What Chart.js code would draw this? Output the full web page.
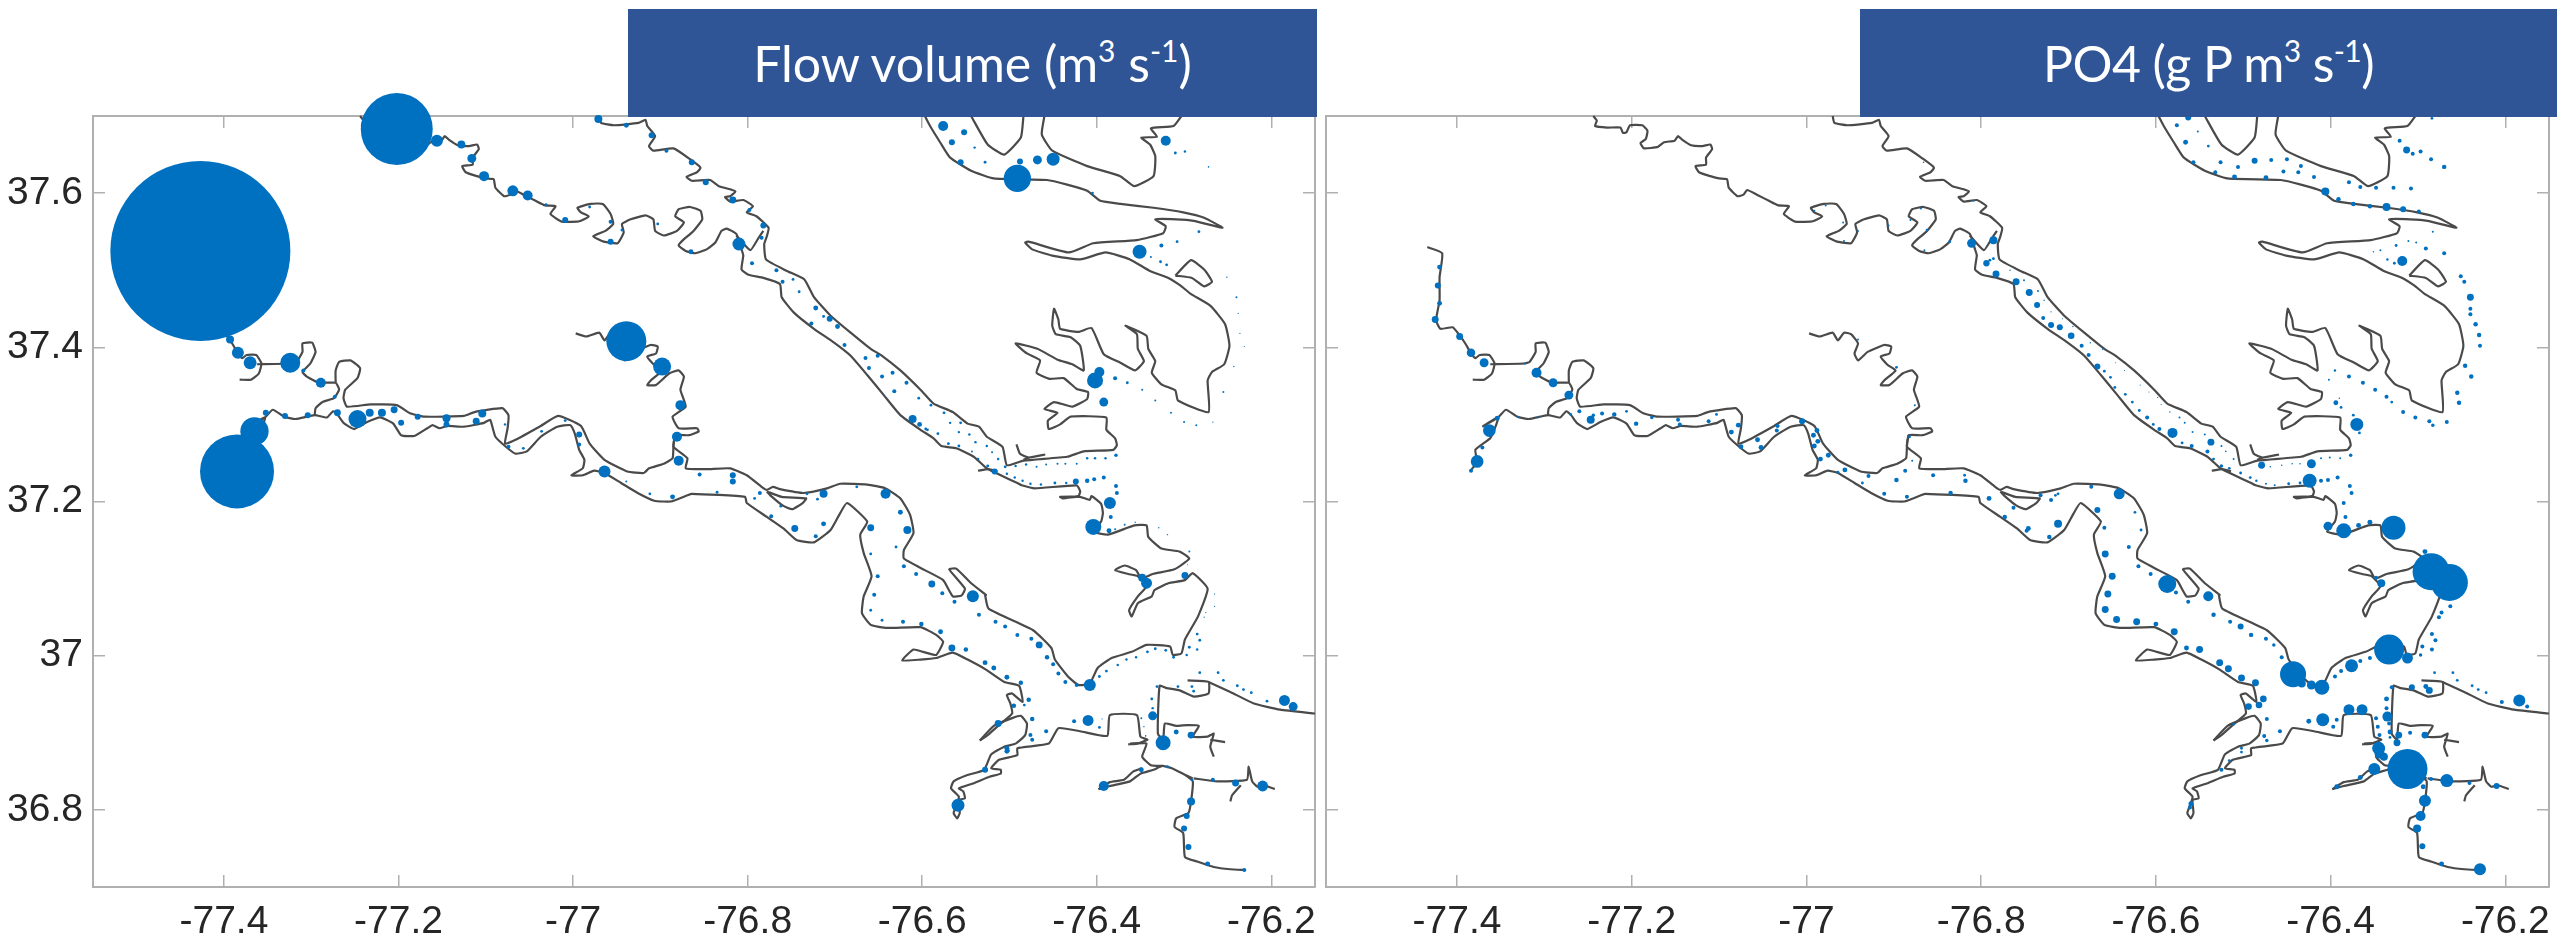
<!DOCTYPE html>
<html>
<head>
<meta charset="utf-8">
<title>Flow volume and PO4</title>
<script src="https://cdn.jsdelivr.net/npm/chart.js@4/dist/chart.umd.min.js"></script>
<style>
    html, body { margin: 0; padding: 0; background: #fff; }
    body { position: relative; width: 2557px; height: 937px; overflow: hidden; }
    canvas { position: absolute; top: 0; }
    #flowChart { left: 0; }
    #po4Chart { left: 1320px; }
    .bar {
        position: absolute; top: 9px; height: 108px; background: #2f5597; color: #fff;
        font: 50px Lato, sans-serif; line-height: 108px; text-align: center; white-space: nowrap;
    }
    .bar sup { font-size: 30px; line-height: 0; vertical-align: 20px; }
    #flowBar { left: 628px; width: 689px; }
    #po4Bar { left: 1860px; width: 697px; letter-spacing: -0.6px; }
</style>
</head>
<body>
<canvas id="flowChart" width="1320" height="937"></canvas>
<canvas id="po4Chart" width="1237" height="937"></canvas>
<div class="bar" id="flowBar">Flow volume (m<sup>3</sup> s<sup>-1</sup>)</div>
<div class="bar" id="po4Bar">PO4 (g P m<sup>3</sup> s<sup>-1</sup>)</div>
<script>
/************************ AXES */
const xTickValues = [-77.4, -77.2, -77, -76.8, -76.6, -76.4, -76.2];
const yTickValues = [36.8, 37, 37.2, 37.4, 37.6];
const xLimits = [-77.55, -76.15];
const yLimits = [36.7, 37.7];

/************************ SHORELINE, [lon, lat] */
const coastPamunkey = [[-77.244,37.700],[-77.240,37.694],[-77.242,37.687],[-77.228,37.685],[-77.213,37.685],[-77.210,37.678],[-77.206,37.679],[-77.202,37.688],[-77.188,37.688],[-77.182,37.681],[-77.184,37.670],[-77.190,37.665],[-77.186,37.658],[-77.170,37.660],[-77.163,37.666],[-77.151,37.668],[-77.147,37.674],[-77.142,37.669],[-77.132,37.662],[-77.119,37.661],[-77.110,37.663],[-77.108,37.657],[-77.115,37.646],[-77.115,37.637],[-77.127,37.635],[-77.123,37.627],[-77.110,37.622],[-77.100,37.619],[-77.091,37.618],[-77.089,37.607],[-77.079,37.596],[-77.072,37.598],[-77.068,37.604],[-77.055,37.597],[-77.043,37.590],[-77.032,37.584],[-77.020,37.583],[-77.026,37.573],[-77.013,37.563],[-76.995,37.563],[-76.991,37.564],[-76.982,37.570],[-76.991,37.575],[-76.995,37.581],[-76.980,37.586],[-76.966,37.586],[-76.957,37.573],[-76.954,37.560],[-76.963,37.551],[-76.977,37.544],[-76.965,37.537],[-76.949,37.535],[-76.942,37.549],[-76.944,37.560],[-76.934,37.566],[-76.917,37.571],[-76.908,37.566],[-76.906,37.551],[-76.896,37.545],[-76.881,37.551],[-76.873,37.562],[-76.883,37.570],[-76.879,37.579],[-76.866,37.582],[-76.854,37.577],[-76.852,37.566],[-76.862,37.551],[-76.875,37.538],[-76.879,37.532],[-76.871,37.525],[-76.860,37.522],[-76.847,37.527],[-76.837,37.536],[-76.830,37.551],[-76.824,37.554],[-76.813,37.547],[-76.807,37.527],[-76.805,37.519],[-76.807,37.501],[-76.799,37.494],[-76.782,37.490],[-76.763,37.482],[-76.761,37.465],[-76.747,37.445],[-76.724,37.424],[-76.701,37.406],[-76.682,37.389],[-76.663,37.364],[-76.644,37.338],[-76.625,37.312],[-76.602,37.293],[-76.587,37.282],[-76.578,37.272],[-76.561,37.269],[-76.541,37.258],[-76.526,37.243],[-76.510,37.234],[-76.491,37.224],[-76.486,37.221],[-76.471,37.217],[-76.423,37.221],[-76.419,37.213],[-76.421,37.207],[-76.439,37.204],[-76.442,37.206],[-76.419,37.206],[-76.408,37.202],[-76.406,37.207],[-76.395,37.197],[-76.393,37.185],[-76.395,37.174],[-76.404,37.161],[-76.387,37.157],[-76.357,37.169],[-76.343,37.169],[-76.341,37.154],[-76.326,37.139],[-76.305,37.135],[-76.294,37.126],[-76.311,37.112],[-76.336,37.106],[-76.349,37.100],[-76.355,37.111],[-76.368,37.117],[-76.379,37.111],[-76.364,37.106],[-76.353,37.103],[-76.343,37.090],[-76.353,37.077],[-76.363,37.059],[-76.360,37.051],[-76.353,37.068],[-76.337,37.077],[-76.334,37.085],[-76.318,37.094],[-76.299,37.098],[-76.290,37.107],[-76.273,37.087],[-76.284,37.051],[-76.299,37.021],[-76.303,37.003],[-76.313,37.001],[-76.316,37.012],[-76.343,37.014],[-76.360,37.005],[-76.383,36.997],[-76.399,36.984],[-76.408,36.964],[-76.421,36.962],[-76.433,36.973],[-76.448,36.995],[-76.452,37.010],[-76.473,37.033],[-76.524,37.061],[-76.528,37.079]];
const coastMattaponi = [[-76.970,37.700],[-76.968,37.691],[-76.953,37.688],[-76.925,37.691],[-76.917,37.695],[-76.915,37.687],[-76.906,37.674],[-76.913,37.661],[-76.908,37.655],[-76.885,37.658],[-76.866,37.644],[-76.854,37.633],[-76.858,37.627],[-76.870,37.621],[-76.864,37.616],[-76.843,37.617],[-76.833,37.609],[-76.820,37.605],[-76.814,37.602],[-76.820,37.596],[-76.826,37.595],[-76.820,37.589],[-76.805,37.591],[-76.794,37.583],[-76.801,37.575],[-76.790,37.570],[-76.776,37.555],[-76.778,37.544],[-76.781,37.534],[-76.779,37.514],[-76.755,37.499],[-76.735,37.488],[-76.724,37.465],[-76.705,37.441],[-76.682,37.419],[-76.659,37.398],[-76.646,37.389],[-76.625,37.370],[-76.602,37.345],[-76.587,37.327],[-76.565,37.316],[-76.548,37.301],[-76.535,37.297],[-76.526,37.284],[-76.508,37.271],[-76.503,37.247],[-76.484,37.253],[-76.434,37.258],[-76.415,37.265],[-76.381,37.267],[-76.377,37.273],[-76.379,37.282],[-76.389,37.293],[-76.389,37.309],[-76.430,37.310],[-76.442,37.300],[-76.455,37.294],[-76.456,37.305],[-76.445,37.315],[-76.460,37.320],[-76.449,37.329],[-76.428,37.323],[-76.411,37.333],[-76.410,37.342],[-76.423,37.346],[-76.438,37.360],[-76.454,37.359],[-76.469,37.367],[-76.465,37.383],[-76.480,37.392],[-76.493,37.405],[-76.468,37.398],[-76.445,37.384],[-76.428,37.378],[-76.415,37.370],[-76.419,37.402],[-76.430,37.413],[-76.447,37.417],[-76.451,37.428],[-76.449,37.450],[-76.444,37.436],[-76.442,37.424],[-76.421,37.420],[-76.406,37.425],[-76.392,37.391],[-76.373,37.380],[-76.356,37.370],[-76.346,37.382],[-76.353,37.398],[-76.354,37.417],[-76.367,37.428],[-76.343,37.415],[-76.341,37.398],[-76.333,37.382],[-76.337,37.367],[-76.326,37.352],[-76.310,37.344],[-76.307,37.331],[-76.272,37.316],[-76.273,37.357],[-76.268,37.368],[-76.254,37.378],[-76.248,37.402],[-76.253,37.430],[-76.270,37.454],[-76.292,37.469],[-76.304,37.480],[-76.318,37.490],[-76.339,37.499],[-76.362,37.514],[-76.390,37.523],[-76.419,37.514],[-76.451,37.519],[-76.474,37.527],[-76.482,37.536],[-76.478,37.537],[-76.432,37.523],[-76.404,37.535],[-76.354,37.539],[-76.324,37.548],[-76.321,37.557],[-76.333,37.566],[-76.309,37.566],[-76.289,37.564],[-76.256,37.555],[-76.277,37.568],[-76.301,37.575],[-76.335,37.581],[-76.373,37.586],[-76.396,37.590],[-76.411,37.603],[-76.434,37.611],[-76.457,37.617],[-76.518,37.619],[-76.544,37.629],[-76.568,37.646],[-76.579,37.665],[-76.591,37.687],[-76.597,37.700]];
const coastMattaponiSpur = [[-76.782,37.551],[-76.788,37.541],[-76.797,37.526],[-76.813,37.545]];
const coastInletA = [[-76.544,37.700],[-76.525,37.663],[-76.506,37.650],[-76.487,37.672],[-76.484,37.700]];
const coastInletB = [[-76.460,37.700],[-76.463,37.676],[-76.451,37.655],[-76.411,37.635],[-76.373,37.622],[-76.357,37.609],[-76.335,37.622],[-76.333,37.648],[-76.339,37.663],[-76.349,37.672],[-76.331,37.673],[-76.338,37.684],[-76.312,37.687],[-76.303,37.700]];
const coastIslet = [[-76.310,37.493],[-76.292,37.513],[-76.277,37.501],[-76.268,37.485],[-76.277,37.479],[-76.291,37.490],[-76.310,37.493]];
const coastYorkBitA = [[-76.536,37.240],[-76.524,37.242],[-76.514,37.239]];
const coastYorkBitB = [[-76.492,37.274],[-76.488,37.262],[-76.478,37.257],[-76.459,37.261]];
const coastYorkBitC = [[-76.478,37.257],[-76.484,37.254]];
const coastJamesTop = [[-77.434,37.530],[-77.417,37.522],[-77.420,37.491],[-77.420,37.461],[-77.424,37.435],[-77.419,37.424],[-77.405,37.426],[-77.398,37.417],[-77.390,37.404],[-77.384,37.392],[-77.379,37.386],[-77.374,37.390],[-77.363,37.390],[-77.357,37.379],[-77.360,37.366],[-77.369,37.358],[-77.382,37.358]];
const coastJamesLoop = [[-77.362,37.378],[-77.323,37.379],[-77.317,37.381],[-77.310,37.394],[-77.310,37.405],[-77.299,37.406],[-77.295,37.394],[-77.301,37.379],[-77.310,37.368],[-77.305,37.362],[-77.291,37.354],[-77.272,37.354],[-77.268,37.345],[-77.274,37.334],[-77.287,37.329],[-77.295,37.321],[-77.296,37.312]];
const coastJamesNorth = [[-77.272,37.354],[-77.272,37.370],[-77.268,37.381],[-77.255,37.383],[-77.244,37.373],[-77.247,37.360],[-77.261,37.345],[-77.263,37.334],[-77.259,37.323],[-77.232,37.326],[-77.202,37.325],[-77.186,37.314],[-77.170,37.310],[-77.125,37.311],[-77.113,37.316],[-77.081,37.321],[-77.074,37.312],[-77.075,37.295],[-77.078,37.275],[-77.066,37.280],[-77.037,37.298],[-77.017,37.311],[-76.991,37.298],[-76.981,37.275],[-76.964,37.254],[-76.938,37.239],[-76.919,37.237],[-76.913,37.243],[-76.896,37.249],[-76.886,37.256],[-76.885,37.271],[-76.883,37.286],[-76.867,37.286],[-76.856,37.291],[-76.858,37.295],[-76.879,37.295],[-76.886,37.310],[-76.871,37.323],[-76.877,37.345],[-76.873,37.362],[-76.879,37.370],[-76.890,37.366],[-76.905,37.351],[-76.915,37.351],[-76.911,37.357],[-76.898,37.370],[-76.907,37.377],[-76.915,37.388],[-76.905,37.392],[-76.903,37.401],[-76.911,37.403],[-76.930,37.394],[-76.941,37.383],[-76.945,37.392],[-76.941,37.405],[-76.949,37.417],[-76.957,37.419],[-76.964,37.409],[-76.970,37.419],[-76.985,37.414],[-76.997,37.418]];
const coastJamesEast = [[-76.883,37.286],[-76.885,37.271],[-76.869,37.256],[-76.871,37.243],[-76.847,37.242],[-76.820,37.243],[-76.801,37.234],[-76.784,37.219],[-76.778,37.215],[-76.771,37.219],[-76.763,37.216],[-76.736,37.211],[-76.709,37.217],[-76.694,37.223],[-76.663,37.222],[-76.642,37.217],[-76.625,37.204],[-76.614,37.183],[-76.610,37.159],[-76.621,37.137],[-76.621,37.126],[-76.597,37.111],[-76.576,37.098],[-76.565,37.077],[-76.555,37.078],[-76.551,37.087],[-76.569,37.112],[-76.561,37.113],[-76.544,37.094],[-76.527,37.079],[-76.528,37.079]];
const coastHogIsland = [[-76.778,37.213],[-76.761,37.206],[-76.733,37.204],[-76.737,37.198],[-76.749,37.190],[-76.760,37.195],[-76.774,37.208],[-76.778,37.213]];
const coastJamesSouth = [[-77.385,37.239],[-77.377,37.252],[-77.379,37.267],[-77.362,37.282],[-77.356,37.297],[-77.353,37.309],[-77.371,37.297],[-77.353,37.309],[-77.344,37.319],[-77.331,37.310],[-77.318,37.307],[-77.296,37.312],[-77.282,37.309],[-77.275,37.317],[-77.270,37.313],[-77.263,37.302],[-77.251,37.294],[-77.236,37.303],[-77.221,37.309],[-77.206,37.301],[-77.197,37.286],[-77.182,37.285],[-77.167,37.295],[-77.161,37.299],[-77.153,37.295],[-77.144,37.298],[-77.125,37.297],[-77.102,37.302],[-77.095,37.306],[-77.089,37.284],[-77.077,37.271],[-77.066,37.262],[-77.053,37.265],[-77.037,37.284],[-77.018,37.297],[-77.003,37.299],[-76.998,37.288],[-76.993,37.267],[-76.987,37.254],[-76.989,37.243],[-77.002,37.234],[-76.989,37.234],[-76.976,37.240],[-76.964,37.237],[-76.945,37.224],[-76.926,37.211],[-76.907,37.201],[-76.888,37.200],[-76.869,37.208],[-76.864,37.210],[-76.803,37.206],[-76.801,37.198],[-76.778,37.180],[-76.759,37.165],[-76.744,37.150],[-76.724,37.147],[-76.705,37.163],[-76.694,37.185],[-76.686,37.198],[-76.663,37.174],[-76.671,37.157],[-76.667,37.133],[-76.658,37.103],[-76.667,37.077],[-76.669,37.055],[-76.659,37.040],[-76.640,37.036],[-76.602,37.037],[-76.584,37.027],[-76.576,37.018],[-76.584,37.001],[-76.599,37.005],[-76.610,37.008],[-76.623,36.994],[-76.602,36.995],[-76.584,36.997],[-76.565,37.004],[-76.548,36.995],[-76.527,36.982],[-76.506,36.966],[-76.489,36.961],[-76.485,36.940],[-76.497,36.951],[-76.503,36.949],[-76.499,36.938],[-76.497,36.925],[-76.510,36.912],[-76.525,36.897],[-76.534,36.890]];
const coastNansemond = [[-76.534,36.890],[-76.518,36.909],[-76.497,36.919],[-76.487,36.922],[-76.480,36.912],[-76.482,36.897],[-76.493,36.886],[-76.506,36.882],[-76.521,36.872],[-76.529,36.852],[-76.549,36.845],[-76.564,36.837],[-76.567,36.828],[-76.558,36.817],[-76.564,36.796],[-76.560,36.789],[-76.557,36.796],[-76.558,36.813],[-76.551,36.815],[-76.553,36.824],[-76.558,36.828],[-76.540,36.835],[-76.523,36.843],[-76.510,36.847],[-76.510,36.852],[-76.521,36.854],[-76.512,36.865],[-76.491,36.871],[-76.491,36.880],[-76.455,36.886],[-76.444,36.906],[-76.419,36.902],[-76.388,36.896],[-76.385,36.923],[-76.354,36.923],[-76.350,36.895],[-76.342,36.891],[-76.354,36.886],[-76.364,36.885]];
const coastElizabethWestA = [[-76.398,36.827],[-76.385,36.836],[-76.369,36.839],[-76.358,36.850],[-76.348,36.854]];
const coastElizabethWestB = [[-76.398,36.827],[-76.385,36.831],[-76.362,36.837],[-76.350,36.847],[-76.335,36.852],[-76.325,36.857],[-76.314,36.854],[-76.298,36.845],[-76.290,36.841]];
const coastElizabethNorth = [[-76.362,36.886],[-76.343,36.886],[-76.348,36.869],[-76.338,36.858],[-76.325,36.857]];
const coastElizabethSouth = [[-76.298,36.845],[-76.290,36.837],[-76.292,36.811],[-76.295,36.796],[-76.309,36.789],[-76.311,36.778],[-76.301,36.770],[-76.299,36.739],[-76.285,36.733],[-76.266,36.726],[-76.247,36.723],[-76.230,36.722]];
const coastElizabethEast = [[-76.289,36.841],[-76.262,36.837],[-76.228,36.839],[-76.226,36.856],[-76.222,36.837],[-76.216,36.830],[-76.209,36.832],[-76.196,36.827]];
const coastElizabethBit = [[-76.235,36.832],[-76.245,36.819],[-76.247,36.811]];
const coastNorfolk = [[-76.296,36.968],[-76.272,36.966],[-76.272,36.951],[-76.289,36.947],[-76.305,36.955],[-76.320,36.958],[-76.328,36.961],[-76.330,36.899],[-76.324,36.891],[-76.322,36.912],[-76.309,36.909],[-76.296,36.910],[-76.283,36.909],[-76.290,36.895],[-76.273,36.895],[-76.266,36.899],[-76.270,36.882],[-76.266,36.869]];
const coastCreek = [[-76.270,36.891],[-76.253,36.888]];
const coastBeach = [[-76.272,36.966],[-76.247,36.953],[-76.220,36.938],[-76.190,36.930],[-76.150,36.925]];

const coastLines = [
    coastPamunkey, coastMattaponi, coastMattaponiSpur, coastInletA, coastInletB, coastIslet,
    coastYorkBitA, coastYorkBitB, coastYorkBitC, coastJamesTop, coastJamesLoop, coastJamesNorth,
    coastJamesEast, coastHogIsland, coastJamesSouth, coastNansemond, coastElizabethWestA,
    coastElizabethWestB, coastElizabethNorth, coastElizabethSouth, coastElizabethEast, coastElizabethBit,
    coastNorfolk, coastCreek, coastBeach
];

/************************ LOADS, [lon, lat, value] */
const flowSites = [
    [-77.427,37.525,8100],[-77.202,37.683,1296],[-76.939,37.408,400],[-77.385,37.239,1369],[-77.365,37.291,200],
    [-76.491,37.619,185],[-76.450,37.644,42],[-76.468,37.643,20],[-76.488,37.641,9],[-76.576,37.687,25],[-76.552,37.679,9],[-76.566,37.666,9],[-76.556,37.640,9],[-76.528,37.640,2],[-76.540,37.659,1.5],
    [-76.321,37.668,25],[-76.310,37.652,2],[-76.299,37.654,1.5],[-76.272,37.634,.6],[-76.351,37.524,49],[-76.326,37.532,4],[-76.308,37.537,2],[-76.327,37.511,2],[-76.320,37.507,2],[-76.338,37.517,1],[-76.283,37.550,2],[-76.405,37.600,2],
    [-76.402,37.357,64],[-76.397,37.368,25],[-76.392,37.329,20],[-76.379,37.360,4],[-76.365,37.354,2],[-76.348,37.345,1],[-76.333,37.331,1],[-76.315,37.315,1],[-76.300,37.303,1],[-76.286,37.299,1],[-76.267,37.303,.5],[-76.255,37.342,1],[-76.243,37.375,.5],[-76.231,37.401,.3],[-76.236,37.418,.3],[-76.238,37.444,.3],[-76.240,37.465,1],[-76.251,37.491,.5],
    [-77.393,37.410,16],[-77.384,37.393,36],[-77.370,37.380,42],[-77.324,37.380,100],[-77.309,37.370,4],[-77.289,37.354,25],[-77.273,37.336,4],[-77.352,37.315,9],[-77.330,37.311,9],[-77.304,37.312,9],[-77.270,37.315,12],[-77.247,37.307,81],[-77.233,37.315,16],[-77.219,37.315,16],[-77.205,37.319,12],[-77.197,37.302,9],[-77.178,37.310,9],[-77.145,37.308,16],[-77.145,37.300,9],[-77.111,37.304,12],[-77.104,37.314,16],[-77.078,37.300,1.5],[-77.074,37.271,4],[-77.057,37.269,2],[-77.036,37.291,2],[-77.009,37.305,2],[-76.993,37.287,9],[-76.993,37.274,4],[-76.964,37.239,36],[-76.881,37.284,25],[-76.877,37.325,25],[-76.879,37.253,25],[-76.898,37.375,81],
    [-77.156,37.668,36],[-77.128,37.663,16],[-77.116,37.645,20],[-77.102,37.622,25],[-77.069,37.603,30],[-77.052,37.597,25],[-77.031,37.585,2],[-77.009,37.565,9],[-76.981,37.582,2],[-76.957,37.563,4],[-76.957,37.537,9],[-76.944,37.552,2],[-76.903,37.560,2],[-76.865,37.524,6],[-76.810,37.534,42],[-76.782,37.558,9],[-76.784,37.542,4],[-76.971,37.696,16],[-76.939,37.688,6],[-76.910,37.675,9],[-76.893,37.655,4],[-76.864,37.640,9],[-76.848,37.614,9],[-76.817,37.591,12],[-76.798,37.578,4],
    [-76.795,37.509,4],[-76.767,37.500,4],[-76.748,37.488,2],[-76.760,37.485,4],[-76.741,37.472,2],[-76.722,37.451,6],[-76.706,37.437,9],[-76.727,37.431,4],[-76.697,37.427,6],[-76.713,37.440,2],[-76.689,37.403,4],[-76.665,37.386,4],[-76.651,37.389,4],[-76.661,37.373,4],[-76.646,37.362,4],[-76.634,37.367,4],[-76.618,37.354,4],[-76.632,37.343,4],[-76.611,37.307,16],[-76.604,37.334,2],[-76.590,37.325,2],[-76.575,37.315,2],[-76.594,37.293,2],[-76.556,37.302,2],
    [-76.603,37.300,6],[-76.596,37.294,2],[-76.582,37.288,2],[-76.568,37.302,1.5],[-76.558,37.290,1.5],[-76.546,37.287,1.5],[-76.570,37.275,2],[-76.558,37.272,2],[-76.539,37.277,1.5],[-76.526,37.272,1.5],[-76.543,37.265,1],[-76.520,37.264,1],[-76.536,37.255,1.5],[-76.513,37.255,1.5],[-76.525,37.246,2],[-76.517,37.239,9],[-76.505,37.245,2],[-76.493,37.246,1.5],[-76.481,37.248,1.5],[-76.469,37.245,1],[-76.458,37.248,1],[-76.445,37.249,1],[-76.436,37.249,1],[-76.423,37.249,1],[-76.411,37.256,1.5],[-76.402,37.256,1.5],[-76.390,37.256,1.5],[-76.378,37.260,3],
    [-76.503,37.236,1.5],[-76.494,37.231,1.5],[-76.485,37.227,1.5],[-76.476,37.223,1.5],[-76.464,37.222,1.5],[-76.448,37.224,2],[-76.435,37.224,1.5],[-76.424,37.226,9],[-76.411,37.227,5],[-76.403,37.229,4],[-76.392,37.231,4],[-76.378,37.220,4],[-76.377,37.211,4],[-76.385,37.198,36],[-76.384,37.180,4],[-76.404,37.167,64],[-76.386,37.162,6],[-76.379,37.164,1],[-76.368,37.170,1],[-76.356,37.173,.5],[-76.329,37.166,.5],[-76.319,37.157,.5],[-76.294,37.135,1],[-76.296,37.118,.3],
    [-76.348,37.101,16],[-76.343,37.094,30],[-76.299,37.104,12],[-76.265,37.080,.4],[-76.265,37.064,.4],[-76.275,37.056,.4],[-76.277,37.050,.4],[-76.285,37.028,2],[-76.282,37.020,2],[-76.294,37.011,2],[-76.285,37.008,1.5],[-76.297,37.001,1.5],[-76.312,36.998,2],[-76.321,37.007,2],[-76.333,37.009,2],[-76.342,37.005,2],[-76.355,36.998,1.5],[-76.366,36.995,1.5],[-76.376,36.988,1.5],[-76.389,36.980,2],[-76.397,36.973,2],[-76.408,36.962,36],
    [-76.423,36.962,4],[-76.436,36.966,4],[-76.444,36.977,4],[-76.450,36.989,4],[-76.457,36.998,5],[-76.466,37.014,12],[-76.475,37.022,4],[-76.491,37.027,4],[-76.505,37.038,4],[-76.516,37.044,4],[-76.535,37.053,4],[-76.542,37.077,36],[-76.563,37.070,4],[-76.577,37.081,4],[-76.589,37.093,12],[-76.607,37.106,4],[-76.621,37.116,4],[-76.617,37.163,16],[-76.625,37.186,6],
    [-76.622,37.044,4],[-76.601,37.041,5],[-76.579,37.031,6],[-76.566,37.010,12],[-76.550,37.008,5],[-76.528,36.991,6],[-76.518,36.984,6],[-76.503,36.972,6],[-76.487,36.965,5],[-76.478,36.943,5],[-76.495,36.935,5],[-76.483,36.936,2],[-76.474,36.918,5],[-76.476,36.897,4],[-76.474,36.891,4],[-76.458,36.902,4],[-76.513,36.912,12],[-76.503,36.880,6],[-76.503,36.876,6],[-76.426,36.915,4],[-76.410,36.916,30],[-76.397,36.907,2],[-76.394,36.918,.3],
    [-76.331,36.960,2],[-76.307,36.960,2],[-76.291,36.960,2],[-76.289,36.954,2],[-76.337,36.944,2],[-76.336,36.932,1.5],[-76.336,36.922,20],[-76.349,36.919,1],[-76.346,36.908,.5],[-76.344,36.896,.6],[-76.309,36.901,6],[-76.292,36.897,12],[-76.324,36.887,56],
    [-76.282,36.978,2],[-76.261,36.978,2],[-76.255,36.968,2],[-76.239,36.961,2],[-76.232,36.956,2],[-76.223,36.952,2],[-76.205,36.941,2],[-76.185,36.942,30],[-76.175,36.934,20],
    [-76.559,36.806,42],[-76.392,36.831,25],[-76.210,36.831,30],[-76.241,36.835,12],[-76.292,36.811,16],[-76.297,36.792,9],[-76.300,36.776,9],[-76.295,36.752,9],[-76.273,36.730,6],[-76.231,36.722,4],[-76.528,36.852,9],[-76.502,36.877,4],[-76.349,36.852,6],[-76.319,36.856,2],[-76.267,36.839,4],[-76.291,36.839,2],
    [-76.855,37.235,4],[-76.817,37.234,9],[-76.817,37.226,9],[-76.939,37.226,1],[-76.912,37.210,2],[-76.886,37.206,6],[-76.835,37.212,2],[-76.792,37.204,2],[-76.786,37.211,4],[-76.762,37.194,2],[-76.773,37.181,4],[-76.732,37.210,2],[-76.720,37.203,2],[-76.713,37.210,16],[-76.675,37.219,2],[-76.642,37.210,25],[-76.659,37.166,12],[-76.746,37.165,12],[-76.713,37.171,6],[-76.722,37.155,4],[-76.630,37.141,2],[-76.659,37.132,2],[-76.651,37.103,4],[-76.655,37.079,4],[-76.659,37.059,2],[-76.646,37.046,2]
];

const po4Sites = [
    [-76.563,37.698,9],[-76.576,37.688,4],[-76.552,37.680,1],[-76.566,37.666,6],[-76.540,37.661,2],[-76.557,37.640,4],[-76.526,37.640,4],[-76.506,37.634,4],[-76.487,37.642,9],[-76.468,37.643,4],[-76.450,37.644,4],[-76.434,37.635,4],[-76.454,37.628,4],[-76.437,37.627,4],[-76.419,37.621,4],[-76.532,37.627,4],[-76.510,37.621,6],[-76.474,37.620,6],
    [-76.406,37.602,16],[-76.391,37.592,5],[-76.374,37.586,5],[-76.355,37.583,5],[-76.336,37.582,16],[-76.317,37.579,9],[-76.299,37.576,4],[-76.379,37.614,4],[-76.366,37.608,4],[-76.348,37.607,4],[-76.328,37.607,4],[-76.308,37.606,4],[-76.321,37.668,4],[-76.313,37.656,12],[-76.306,37.651,4],[-76.297,37.654,4],[-76.285,37.644,4],[-76.270,37.634,5],[-76.284,37.697,2],
    [-76.283,37.550,1],[-76.311,37.538,1],[-76.302,37.536,1],[-76.325,37.532,2],[-76.291,37.528,4],[-76.270,37.522,4],[-76.351,37.524,.5],[-76.343,37.526,1],[-76.335,37.514,1.5],[-76.327,37.509,2],[-76.318,37.512,25],
    [-76.251,37.492,4],[-76.247,37.485,4],[-76.240,37.465,12],[-76.240,37.450,4],[-76.240,37.443,4],[-76.234,37.430,5],[-76.230,37.416,5],[-76.229,37.402,4],[-76.246,37.376,5],[-76.239,37.362,5],[-76.255,37.341,5],[-76.253,37.328,5],[-76.267,37.303,4],[-76.287,37.304,4],[-76.283,37.299,3],[-76.303,37.309,4],[-76.317,37.316,4],[-76.330,37.329,2],[-76.336,37.336,4],[-76.349,37.345,4],[-76.363,37.354,4],[-76.379,37.362,4],[-76.395,37.370,1.5],[-76.402,37.358,1],[-76.390,37.334,.5],[-76.394,37.328,6],[-76.388,37.322,2],[-76.374,37.312,2],[-76.370,37.300,42],[-76.367,37.289,2],
    [-76.581,37.289,25],[-76.537,37.277,12],[-76.558,37.290,1],[-76.544,37.287,1],[-76.570,37.276,2],[-76.559,37.272,4],[-76.541,37.265,4],[-76.525,37.272,1],[-76.520,37.265,.6],[-76.573,37.309,1],[-76.567,37.302,1],[-76.584,37.316,.5],
    [-76.811,37.535,20],[-76.786,37.539,16],[-76.794,37.509,10],[-76.790,37.513,2],[-76.786,37.515,2],[-76.783,37.495,12],[-76.767,37.500,.6],[-76.760,37.485,12],[-76.751,37.487,1],[-76.745,37.471,12],[-76.735,37.473,1],[-76.736,37.455,9],[-76.728,37.461,.5],[-76.729,37.438,4],[-76.720,37.446,.5],[-76.720,37.429,9],[-76.710,37.426,9],[-76.707,37.437,.3],[-76.697,37.415,11],[-76.695,37.427,.5],[-76.685,37.402,4],[-76.675,37.406,.5],[-76.677,37.390,4],[-76.661,37.398,.5],
    [-76.866,37.640,.6],[-76.991,37.577,1],[-76.978,37.584,1],[-76.958,37.562,1],[-76.941,37.551,1],[-76.957,37.538,1],[-76.906,37.558,1],[-76.881,37.565,1],[-76.869,37.580,1],[-76.862,37.552,2],[-76.865,37.526,1],[-76.836,37.537,2],[-76.809,37.590,1],[-76.941,37.410,1],
    [-76.667,37.375,9],[-76.659,37.369,2],[-76.652,37.361,2],[-76.661,37.397,.3],[-76.646,37.380,.3],[-76.636,37.370,.3],[-76.647,37.348,2],[-76.635,37.339,2],[-76.627,37.329,2],[-76.619,37.318,2],[-76.610,37.309,4],[-76.603,37.300,2],[-76.596,37.294,4],[-76.618,37.351,.3],[-76.608,37.342,.3],[-76.598,37.335,.3],[-76.594,37.326,.3],
    [-76.511,37.255,1],[-76.534,37.255,2],[-76.525,37.246,3],[-76.516,37.243,2],[-76.503,37.237,2],[-76.492,37.231,2],[-76.485,37.227,1.5],[-76.474,37.223,1],[-76.464,37.221,1],[-76.448,37.223,2],[-76.479,37.247,12],[-76.469,37.245,.6],[-76.456,37.247,.6],[-76.444,37.249,.6],[-76.435,37.249,.6],[-76.422,37.249,20],[-76.411,37.256,1],[-76.401,37.257,1],[-76.389,37.256,1],[-76.377,37.260,3],
    [-76.424,37.227,49],[-76.411,37.227,4],[-76.403,37.228,4],[-76.392,37.231,4],[-76.378,37.220,4],[-76.376,37.211,4],[-76.385,37.198,4],[-76.383,37.180,4],[-76.368,37.169,6],[-76.355,37.173,6],[-76.328,37.166,144],[-76.385,37.162,56],[-76.403,37.168,20],[-76.435,37.224,2],
    [-76.292,37.135,6],[-76.285,37.109,342],[-76.264,37.095,342],[-76.263,37.064,4],[-76.348,37.101,4],[-76.342,37.094,16],[-76.587,37.093,81],[-76.577,37.082,4],[-76.563,37.070,4],[-76.540,37.077,25],
    [-76.887,37.240,4],[-76.855,37.234,4],[-76.819,37.234,2],[-76.818,37.227,5],[-76.885,37.206,4],[-76.835,37.211,5],[-76.791,37.204,6],[-76.763,37.192,4],[-76.773,37.180,5],[-76.746,37.165,6],[-76.748,37.162,4],[-76.712,37.171,16],[-76.722,37.154,5],[-76.732,37.208,4],[-76.720,37.202,4],[-76.715,37.208,2],[-76.712,37.210,2],[-76.674,37.219,4],[-76.642,37.210,30],[-76.667,37.189,9],[-76.624,37.186,2],[-76.659,37.166,4],[-76.617,37.163,2],[-76.631,37.141,4],[-76.658,37.132,12],[-76.620,37.116,4],[-76.606,37.106,4],[-76.650,37.103,12],[-76.655,37.080,12],[-76.658,37.060,12],[-76.645,37.047,12],[-76.622,37.044,12],[-76.600,37.041,6],[-76.579,37.031,12],[-76.879,37.253,1],[-76.876,37.325,1],[-76.882,37.284,2],
    [-76.534,37.053,5],[-76.515,37.044,4],[-76.503,37.038,9],[-76.491,37.027,5],[-76.474,37.022,4],[-76.465,37.014,3],[-76.456,36.998,4],[-76.565,37.010,6],[-76.550,37.008,12],[-76.527,36.991,12],[-76.517,36.983,12],[-76.502,36.971,12],[-76.486,36.965,12],[-76.477,36.944,11],[-76.482,36.936,11],[-76.494,36.934,11],[-76.473,36.918,4],[-76.511,36.911,2],[-76.458,36.902,4],[-76.476,36.896,4],[-76.473,36.890,3],[-76.502,36.880,2],[-76.502,36.875,2],[-76.516,36.864,2],[-76.525,36.852,4],[-76.560,36.808,6],[-76.561,36.803,4],
    [-76.443,36.976,169],[-76.433,36.964,16],[-76.422,36.962,20],[-76.410,36.959,56],[-76.395,36.973,4],[-76.388,36.980,4],[-76.376,36.987,42],[-76.366,36.993,4],[-76.355,36.997,4],[-76.333,37.008,225],[-76.312,36.997,30],[-76.297,37.001,3],[-76.295,37.012,4],[-76.284,37.008,4],[-76.280,37.020,4],[-76.284,37.028,4],[-76.276,37.050,4],[-76.273,37.056,4],
    [-76.281,36.978,2],[-76.260,36.978,2],[-76.255,36.968,2],[-76.238,36.961,2],[-76.231,36.956,2],[-76.222,36.952,2],[-76.204,36.940,4],[-76.184,36.942,36],[-76.175,36.934,4],
    [-76.330,36.959,4],[-76.307,36.959,9],[-76.291,36.960,6],[-76.287,36.955,12],[-76.336,36.944,6],[-76.336,36.932,4],[-76.335,36.921,25],[-76.379,36.930,30],[-76.364,36.930,30],[-76.409,36.917,42],[-76.425,36.915,6],[-76.393,36.917,4],[-76.397,36.908,4],[-76.348,36.919,4],[-76.346,36.908,4],[-76.333,36.912,4],[-76.332,36.901,6],[-76.332,36.894,2],[-76.344,36.897,4],[-76.322,36.897,12],[-76.324,36.887,12],[-76.309,36.900,4],[-76.292,36.897,12],
    [-76.345,36.880,42],[-76.344,36.873,25],[-76.339,36.869,16],[-76.350,36.853,36],[-76.312,36.853,400],[-76.366,36.842,6],[-76.393,36.830,6],[-76.285,36.840,4],[-76.267,36.838,42],[-76.241,36.835,4],[-76.210,36.831,9],[-76.294,36.830,6],[-76.292,36.812,36],[-76.297,36.792,25],[-76.301,36.776,16],[-76.295,36.753,9],[-76.273,36.730,6],[-76.229,36.723,36],
    [-77.384,37.393,18],[-77.369,37.380,20],[-77.309,37.367,25],[-77.290,37.354,20],[-77.272,37.338,20],[-77.323,37.379,1],[-77.363,37.292,40],[-77.377,37.252,40],[-77.371,37.270,4],[-77.354,37.308,6],[-77.384,37.240,4],[-77.330,37.310,1],[-77.306,37.310,1],[-77.270,37.313,2],[-77.260,37.317,4],[-77.247,37.306,16],[-77.244,37.312,3],[-77.234,37.314,4],[-77.220,37.313,5],[-77.206,37.317,2],[-77.195,37.301,5],[-77.177,37.309,3],[-77.147,37.306,4],[-77.145,37.300,4],[-77.112,37.304,4],[-77.103,37.313,2],[-77.078,37.299,6],[-77.086,37.290,6],[-77.075,37.271,6],[-77.056,37.280,6],[-77.052,37.270,6],[-77.033,37.298,4],[-77.034,37.292,4],[-77.005,37.304,9],[-76.988,37.292,6],[-76.992,37.286,6],[-76.987,37.278,6],[-76.991,37.272,6],[-76.984,37.255,6],[-76.975,37.260,6],[-76.964,37.238,2],[-76.956,37.241,6],[-76.936,37.224,2],[-76.929,37.233,4],[-76.911,37.210,4],[-76.897,37.228,5],[-76.897,37.374,2],
    [-77.420,37.504,6],[-77.422,37.480,9],[-77.420,37.457,6],[-77.425,37.436,12],[-77.397,37.414,12]
];

/************************ CHARTS */
const frameColor = '#b0b0b0';
const blue = '#0070c0';

// every panel has ticks on all four sides, pointing inside the box
const panelAxis = (position, limits, tickValues, showLabels, size, padding) => ({
    type: 'linear',
    position: position,
    min: limits[0],
    max: limits[1],
    afterBuildTicks: (scale) => { scale.ticks = tickValues.map((v) => ({ value: v })); },
    afterFit: (scale) => {
        if (scale.isHorizontal()) { scale.height = size; } else { scale.width = size; }
        // labels may hang over the box, the box itself stays where it is
        scale.paddingLeft = scale.paddingRight = scale.paddingTop = scale.paddingBottom = 0;
    },
    border: { display: true, color: frameColor, width: 2 },
    grid: { drawOnChartArea: false, drawTicks: true, tickLength: -12, color: frameColor, lineWidth: 1.5 },
    ticks: {
        display: showLabels,
        autoSkip: false,
        maxRotation: 0,
        padding: padding,
        color: '#262626',
        font: { family: '"Liberation Sans", Arial, sans-serif', size: 39 },
        callback: (v) => String(v)
    }
});

const drawPanel = (id, sites, margins, showYLabels) => {
    const coastSets = coastLines.map((line) => ({
        type: 'scatter',
        data: line.map((p) => ({ x: p[0], y: p[1] })),
        showLine: true,
        borderColor: '#4a4a4a',
        borderWidth: 2.2,
        pointRadius: 0,
        tension: 0.15,
        clip: false,
        order: 2
    }));
    const siteSet = {
        type: 'bubble',
        data: sites.map((s) => ({ x: s[0], y: s[1], r: Math.sqrt(s[2]) })),
        backgroundColor: blue,
        borderWidth: 0,
        clip: false,
        order: 1
    };
    return new Chart(document.getElementById(id).getContext('2d'), {
        data: { datasets: [siteSet, ...coastSets] },
        options: {
            responsive: false,
            animation: false,
            events: [],
            // the big circles may stick out of the box without shrinking it
            layout: { padding: 0, autoPadding: false },
            plugins: { legend: { display: false }, title: { display: false }, tooltip: { enabled: false } },
            scales: {
                x: panelAxis('bottom', xLimits, xTickValues, true, margins.bottom, 24),
                y: panelAxis('left', yLimits, yTickValues, showYLabels, margins.left, 22),
                xTop: panelAxis('top', xLimits, xTickValues, false, margins.top, 0),
                yRight: panelAxis('right', yLimits, yTickValues, false, margins.right, 0)
            }
        }
    });
};

drawPanel('flowChart', flowSites, { left: 93, right: 5, top: 116, bottom: 50 }, true);
drawPanel('po4Chart', po4Sites, { left: 6, right: 8, top: 116, bottom: 50 }, false);
</script>
</body>
</html>
